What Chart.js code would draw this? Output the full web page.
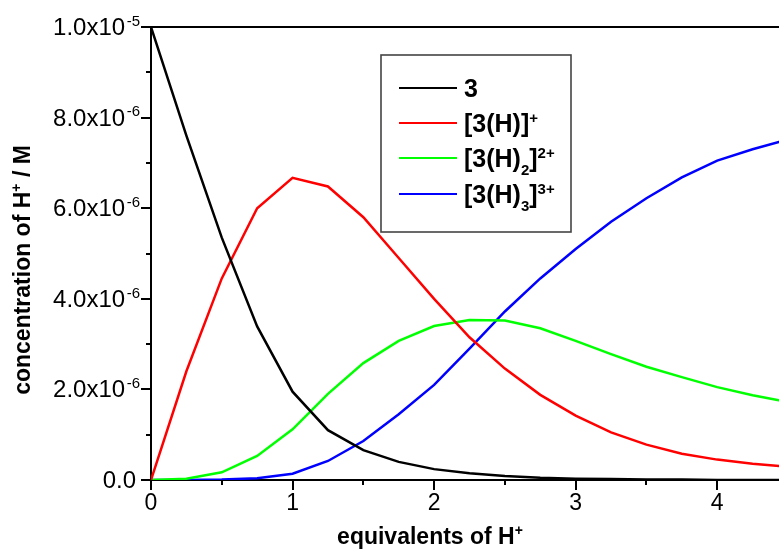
<!DOCTYPE html>
<html>
<head>
<meta charset="utf-8">
<script src="https://cdn.jsdelivr.net/npm/chart.js@4/dist/chart.umd.min.js"></script>
<style>
  html, body { margin: 0; padding: 0; background: #fff; overflow: hidden; }
  #wrap { position: absolute; left: 0; top: 0; width: 789px; height: 549px; }
</style>
</head>
<body>
<div id="wrap"><canvas id="c"></canvas></div>
<script>
// Equivalents of added H+
const equivalents = [0, 0.25, 0.5, 0.75, 1.0, 1.25, 1.5, 1.75, 2.0, 2.25, 2.5, 2.75, 3.0, 3.25, 3.5, 3.75, 4.0, 4.25, 4.5];

// Species concentrations, in units of 1e-6 M
const free3   = [10.0, 7.6, 5.35, 3.39, 1.95, 1.10, 0.66, 0.40, 0.24, 0.15, 0.09, 0.05, 0.03, 0.02, 0.01, 0.01, 0.0, 0.0, 0.0];
const mono    = [0.0, 2.4, 4.45, 6.0, 6.67, 6.48, 5.8, 4.9, 4.0, 3.15, 2.46, 1.88, 1.42, 1.05, 0.78, 0.58, 0.45, 0.36, 0.29];
const di      = [0.0, 0.03, 0.17, 0.53, 1.12, 1.9, 2.58, 3.07, 3.4, 3.53, 3.52, 3.35, 3.07, 2.78, 2.5, 2.27, 2.05, 1.87, 1.72];
const tri     = [0.0, 0.0, 0.01, 0.04, 0.14, 0.42, 0.86, 1.45, 2.1, 2.9, 3.72, 4.45, 5.1, 5.7, 6.22, 6.68, 7.05, 7.3, 7.52];

// Axis ticks
const xMajorTicks = [0, 1, 2, 3, 4];
const xMinorTicks = [0.5, 1.5, 2.5, 3.5, 4.5];
const yMajorTicks = [0, 2e-6, 4e-6, 6e-6, 8e-6, 1e-5];
const yMinorTicks = [1e-6, 3e-6, 5e-6, 7e-6, 9e-6];
const yTickLabels = [['0.0'], ['2.0x10', '-6'], ['4.0x10', '-6'], ['6.0x10', '-6'], ['8.0x10', '-6'], ['1.0x10', '-5']];

const seriesNames = ['3', '[3(H)]+', '[3(H)2]2+', '[3(H)3]3+'];
const seriesColors = ['#000000', '#ff0000', '#00ff00', '#0000ff'];

// Rich-text pieces for the legend: [text, mode] where mode is '', 'sup' or 'sub'
const legendRich = [
  [['3', '']],
  [['[3(H)]', ''], ['+', 'sup']],
  [['[3(H)', ''], ['2', 'sub'], [']', ''], ['2+', 'sup']],
  [['[3(H)', ''], ['3', 'sub'], [']', ''], ['3+', 'sup']]
];

const FONT = '"Liberation Sans", Arial, sans-serif';

function toPoints(vals) {
  return equivalents.map((x, i) => ({ x: x, y: vals[i] * 1e-6 }));
}

// Draw a run of text with raised / lowered small pieces; returns end x
function drawRich(ctx, parts, x, y, size, weight, align, smallRatio, supGap) {
  const r = smallRatio || 0.6;
  const gap = supGap || 0;
  const big = weight + ' ' + size + 'px ' + FONT;
  const small = weight + ' ' + Math.round(size * r) + 'px ' + FONT;
  let total = 0;
  parts.forEach(([t, m]) => {
    ctx.font = m ? small : big;
    total += ctx.measureText(t).width + (m === 'sup' ? gap : 0);
  });
  let cx = align === 'right' ? x - total : (align === 'center' ? x - total / 2 : x);
  ctx.textAlign = 'left';
  ctx.textBaseline = 'alphabetic';
  parts.forEach(([t, m]) => {
    ctx.font = m ? small : big;
    let dy = 0;
    if (m === 'sup') { dy = -size * 0.38; cx += gap; }
    if (m === 'sub') dy = size * 0.32;
    ctx.fillText(t, cx, y + dy);
    cx += ctx.measureText(t).width;
  });
  return cx;
}

const framePlugin = {
  id: 'frame',
  afterDraw(chart) {
    const { ctx, chartArea: a, scales } = chart;
    const xs = scales.x, ys = scales.y;
    ctx.save();
    ctx.strokeStyle = '#000';
    ctx.fillStyle = '#000';
    ctx.lineWidth = 2;
    // top frame line
    ctx.beginPath();
    ctx.moveTo(a.left - 1, a.top);
    ctx.lineTo(a.right + 1, a.top);
    ctx.stroke();

    // x ticks
    xMajorTicks.forEach(v => {
      const px = Math.round(xs.getPixelForValue(v));
      ctx.beginPath(); ctx.moveTo(px, a.bottom); ctx.lineTo(px, a.bottom + 10); ctx.stroke();
    });
    xMinorTicks.forEach(v => {
      const px = Math.round(xs.getPixelForValue(v));
      ctx.beginPath(); ctx.moveTo(px, a.bottom); ctx.lineTo(px, a.bottom + 5); ctx.stroke();
    });
    // y ticks
    yMajorTicks.forEach(v => {
      const py = Math.round(ys.getPixelForValue(v));
      ctx.beginPath(); ctx.moveTo(a.left, py); ctx.lineTo(a.left - 10, py); ctx.stroke();
    });
    yMinorTicks.forEach(v => {
      const py = Math.round(ys.getPixelForValue(v));
      ctx.beginPath(); ctx.moveTo(a.left, py); ctx.lineTo(a.left - 5, py); ctx.stroke();
    });

    // x tick labels
    ctx.font = '23px ' + FONT;
    ctx.textAlign = 'center';
    ctx.textBaseline = 'top';
    xMajorTicks.forEach(v => {
      ctx.fillText(String(v), xs.getPixelForValue(v), a.bottom + 12);
    });
    // y tick labels
    yMajorTicks.forEach((v, i) => {
      const py = ys.getPixelForValue(v);
      const lab = yTickLabels[i];
      if (lab.length > 1) {
        drawRich(ctx, [[lab[0], ''], [lab[1], 'sup']], a.left - 11, py + 8, 24, 'normal', 'right', 0.62, 1.5);
      } else {
        drawRich(ctx, [[lab[0], '']], a.left - 15, py + 8, 24, 'normal', 'right');
      }
    });

    // axis titles
    drawRich(ctx, [['equivalents of H', ''], ['+', 'sup']], 430, 544, 23, 'bold', 'center');
    ctx.save();
    ctx.translate(30, 270);
    ctx.rotate(-Math.PI / 2);
    drawRich(ctx, [['concentration of H', ''], ['+', 'sup'], [' / M', '']], 0, 0, 23, 'bold', 'center');
    ctx.restore();

    // legend box
    const bx = 381, by = 55, bw = 190, bh = 177;
    ctx.fillStyle = '#fff';
    ctx.fillRect(bx, by, bw, bh);
    ctx.strokeStyle = '#444';
    ctx.lineWidth = 1.6;
    ctx.strokeRect(bx, by, bw, bh);
    const rows = [88, 123, 158, 194];
    rows.forEach((ry, i) => {
      ctx.strokeStyle = seriesColors[i];
      ctx.lineWidth = 2;
      ctx.beginPath(); ctx.moveTo(399, ry); ctx.lineTo(457, ry); ctx.stroke();
      ctx.fillStyle = '#000';
      drawRich(ctx, legendRich[i], 464, ry + 9, 25, 'bold', 'left');
    });
    ctx.restore();
  }
};

const datasets = [free3, mono, di, tri].map((vals, i) => ({
  label: seriesNames[i],
  data: toPoints(vals),
  borderColor: seriesColors[i],
  backgroundColor: seriesColors[i],
  borderWidth: 2.5,
  pointRadius: 0,
  tension: 0,
  fill: false
}));

new Chart(document.getElementById('c'), {
  type: 'line',
  data: { datasets },
  options: {
    responsive: true,
    maintainAspectRatio: false,
    animation: false,
    layout: { padding: { left: 151, top: 27, right: 1, bottom: 69 } },
    plugins: { legend: { display: false }, tooltip: { enabled: false } },
    scales: {
      x: {
        type: 'linear', min: 0, max: 4.5,
        grid: { display: false, drawTicks: false },
        ticks: { display: false },
        border: { display: true, color: '#000', width: 2 }
      },
      y: {
        type: 'linear', min: 0, max: 1e-5,
        grid: { display: false, drawTicks: false },
        ticks: { display: false },
        border: { display: true, color: '#000', width: 2 }
      }
    }
  },
  plugins: [framePlugin]
});
</script>
</body>
</html>
